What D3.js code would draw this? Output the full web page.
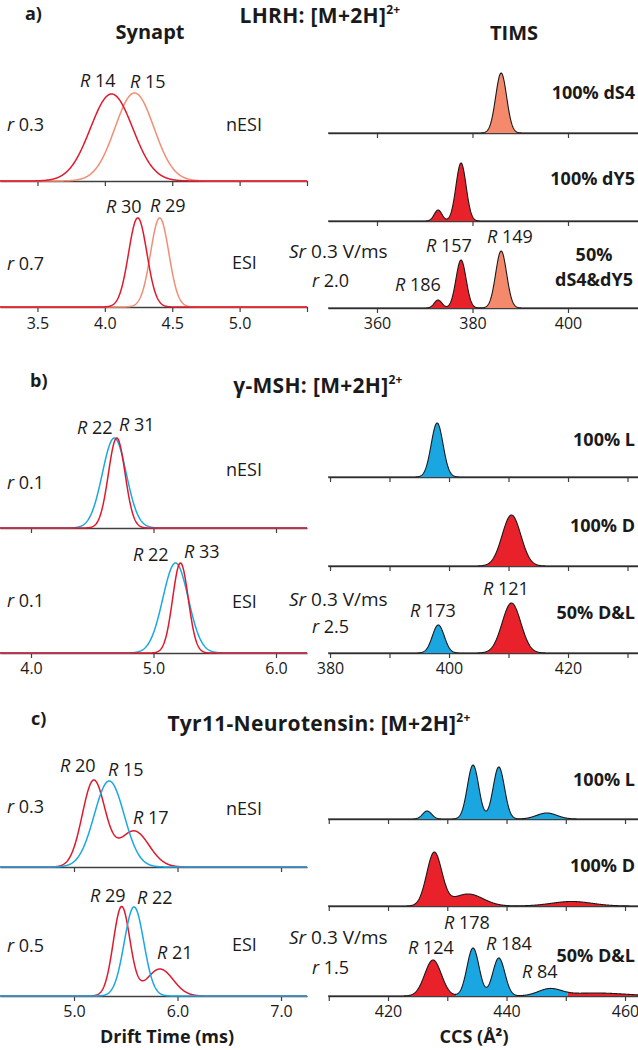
<!DOCTYPE html>
<html><head><meta charset="utf-8">
<script src="https://cdn.jsdelivr.net/npm/d3@7"></script>
<style>
html,body{margin:0;padding:0;background:#fff;}
svg text{font-family:"Open Sans",sans-serif;fill:#1a1a1a;}
</style></head><body>
<svg id="c" width="638" height="1050"></svg>
<script>
// ================= DATA =================
// Every peak is [centre, FWHM, relative intensity].

// ---- a) LHRH ----
const aSynaptDomain = [3.222, 5.5];            // drift time (ms)
const aSynaptTicks = [3.5, 4.0, 4.5, 5.0, 5.5];
const aSynaptTickLabels = ["3.5", "4.0", "4.5", "5.0", ""];
const aNesiDS4 = [[4.22, 0.34, 0.978]];
const aNesiDY5 = [[4.05, 0.37, 0.967]];
const aEsiDS4 = [[4.407, 0.16, 0.99]];
const aEsiDY5 = [[4.244, 0.16, 0.99]];

const aTimsDomain = [349.74, 414.66];         // CCS (Å²)
const aTimsTicks = [360, 380, 400];
const aTimsTickLabels = ["360", "380", "400"];
const aTimsDS4 = [[386.0, 2.7, 1.0]];
const aTimsDY5 = [[372.8, 1.9, 0.183], [377.6, 2.5, 0.967]];
const aTimsMixDS4 = [[386.0, 2.7, 0.95]];
const aTimsMixDY5 = [[372.8, 1.9, 0.133], [377.6, 2.5, 0.80]];

// ---- b) γ-MSH ----
const bSynaptDomain = [3.747, 6.253];
const bSynaptTicks = [4.0, 5.0, 6.0];
const bSynaptTickLabels = ["4.0", "5.0", "6.0"];
const bNesiL = [[4.68, 0.23, 1.0]];
const bNesiD = [[4.70, 0.16, 1.0]];
const bEsiL = [[5.18, 0.245, 1.0]];
const bEsiD = [[5.22, 0.15, 1.0]];

const bTimsDomain = [379.66, 431.76];
const bTimsTicks = [380, 390, 400, 410, 420, 430];
const bTimsTickLabels = ["380", "", "400", "", "420", ""];
const bTimsL = [[398.0, 2.35, 0.90]];
const bTimsD = [[410.5, 3.7, 0.85]];
const bTimsMixL = [[398.2, 2.35, 0.467]];
const bTimsMixD = [[410.5, 3.7, 0.833]];

// ---- c) Tyr11-Neurotensin ----
const cSynaptDomain = [4.285, 7.251];
const cSynaptTicks = [5.0, 6.0, 7.0];
const cSynaptTickLabels = ["5.0", "6.0", "7.0"];
const cNesiD = [[5.19, 0.26, 0.956], [5.58, 0.34, 0.40]];
const cNesiL = [[5.34, 0.34, 0.956]];
const cEsiD = [[5.46, 0.19, 0.99], [5.83, 0.30, 0.30]];
const cEsiL = [[5.58, 0.222, 0.99]];

const cTimsDomain = [409.87, 462.19];
const cTimsTicks = [410, 420, 430, 440, 450, 460];
const cTimsTickLabels = ["", "420", "", "440", "", "460"];
const cTimsL = [[426.6, 1.8, 0.133], [434.35, 2.25, 0.90], [438.7, 2.25, 0.867], [446.8, 4.0, 0.10]];
const cTimsD = [[427.8, 3.0, 0.883], [433.5, 6.0, 0.20], [451.0, 8.0, 0.075]];
const cTimsMixD = [[427.6, 3.3, 0.60], [455.0, 12.0, 0.05]];
const cTimsMixL = [[434.35, 2.4, 0.80], [438.7, 2.4, 0.633], [447.3, 4.5, 0.11]];

// ================= STYLE / LAYOUT =================
const COL = {
  redLine: "#e0192d", salmonLine: "#f28e74", cyanLine: "#1aa8e2",
  redFill: "#e8212b", salmonFill: "#f4896b", cyanFill: "#19a6e1",
  axis: "#404040", outline: "#1a1a1a"
};
const LX = [0, 307], RX = [328, 638];
const svg = d3.select("#c");
const N = 900;

function gauss(peaks, x) {
  let s = 0;
  for (const [c, w, h] of peaks) s += h * Math.exp(-4 * Math.LN2 * (x - c) * (x - c) / (w * w));
  return s;
}

function drawAxis(x, baseY, ticks, labels, showLabels, labelBase) {
  const ax = d3.axisBottom(x).tickValues(ticks).tickSize(5).tickSizeOuter(0)
    .tickFormat((d, i) => showLabels ? labels[i] : "");
  const g = svg.append("g").attr("transform", `translate(0,${baseY})`).call(ax);
  g.attr("font-family", null).attr("font-size", null);
  g.select(".domain").attr("stroke", COL.axis).attr("stroke-width", 1.5);
  g.selectAll(".tick line").attr("stroke", COL.axis).attr("stroke-width", 1.2);
  g.selectAll(".tick text").attr("y", labelBase - baseY).attr("dy", 0)
    .attr("font-size", 16).attr("fill", "#1a1a1a");
}

function drawSynapt(domain, baseY, traces, ticks, labels, showLabels, labelBase) {
  const x = d3.scaleLinear().domain(domain).range(LX);
  const y = d3.scaleLinear().domain([0, 1]).range([baseY, baseY - 90]);
  drawAxis(x, baseY, ticks, labels, showLabels, labelBase);
  const xs = d3.range(N + 1).map(i => domain[0] + (domain[1] - domain[0]) * i / N);
  traces.forEach(t => {
    const line = d3.line().x(d => x(d)).y(d => y(gauss(t.peaks, d)));
    svg.append("path").datum(xs).attr("d", line).attr("fill", "none")
      .attr("stroke", t.color).attr("stroke-width", 1.5);
  });
}

function drawTims(domain, baseY, comps, ticks, labels, showLabels, labelBase) {
  const x = d3.scaleLinear().domain(domain).range(RX);
  const y = d3.scaleLinear().domain([0, 1]).range([baseY, baseY - 60]);
  drawAxis(x, baseY, ticks, labels, showLabels, labelBase);
  const xs = d3.range(N + 1).map(i => domain[0] + (domain[1] - domain[0]) * i / N);
  const vals = xs.map(v => comps.map(c => gauss(c.peaks, v)));
  const tot = vals.map(v => d3.sum(v));
  const dom = vals.map(v => d3.maxIndex(v));
  const area = d3.area().x(i => x(xs[i])).y0(baseY).y1(i => y(tot[i]));
  let start = 0;
  for (let i = 1; i <= xs.length; i++) {
    if (i === xs.length || dom[i] !== dom[start]) {
      const idx = d3.range(start, Math.min(i + 1, xs.length));
      svg.append("path").datum(idx).attr("d", area).attr("fill", comps[dom[start]].color);
      start = i;
    }
  }
  const line = d3.line().x((d, i) => x(d)).y((d, i) => y(tot[i]));
  svg.append("path").datum(xs).attr("d", line).attr("fill", "none")
    .attr("stroke", COL.outline).attr("stroke-width", 1.1);
}

// ---- panel a ----
drawSynapt(aSynaptDomain, 181, [{peaks: aNesiDS4, color: COL.salmonLine}, {peaks: aNesiDY5, color: COL.redLine}],
  aSynaptTicks, aSynaptTickLabels, false, 329);
drawSynapt(aSynaptDomain, 307, [{peaks: aEsiDS4, color: COL.salmonLine}, {peaks: aEsiDY5, color: COL.redLine}],
  aSynaptTicks, aSynaptTickLabels, true, 329);
drawTims(aTimsDomain, 133, [{peaks: aTimsDS4, color: COL.salmonFill}], aTimsTicks, aTimsTickLabels, false, 329);
drawTims(aTimsDomain, 221, [{peaks: aTimsDY5, color: COL.redFill}], aTimsTicks, aTimsTickLabels, false, 329);
drawTims(aTimsDomain, 308, [{peaks: aTimsMixDY5, color: COL.redFill}, {peaks: aTimsMixDS4, color: COL.salmonFill}],
  aTimsTicks, aTimsTickLabels, true, 329);

// ---- panel b ----
drawSynapt(bSynaptDomain, 528, [{peaks: bNesiL, color: COL.cyanLine}, {peaks: bNesiD, color: COL.redLine}],
  bSynaptTicks, bSynaptTickLabels, false, 674);
drawSynapt(bSynaptDomain, 653, [{peaks: bEsiL, color: COL.cyanLine}, {peaks: bEsiD, color: COL.redLine}],
  bSynaptTicks, bSynaptTickLabels, true, 674);
drawTims(bTimsDomain, 477, [{peaks: bTimsL, color: COL.cyanFill}], bTimsTicks, bTimsTickLabels, false, 674);
drawTims(bTimsDomain, 566, [{peaks: bTimsD, color: COL.redFill}], bTimsTicks, bTimsTickLabels, false, 674);
drawTims(bTimsDomain, 653, [{peaks: bTimsMixL, color: COL.cyanFill}, {peaks: bTimsMixD, color: COL.redFill}],
  bTimsTicks, bTimsTickLabels, true, 674);

// ---- panel c ----
drawSynapt(cSynaptDomain, 867, [{peaks: cNesiD, color: COL.redLine}, {peaks: cNesiL, color: COL.cyanLine}],
  cSynaptTicks, cSynaptTickLabels, false, 1017);
drawSynapt(cSynaptDomain, 996, [{peaks: cEsiD, color: COL.redLine}, {peaks: cEsiL, color: COL.cyanLine}],
  cSynaptTicks, cSynaptTickLabels, true, 1017);
drawTims(cTimsDomain, 819, [{peaks: cTimsL, color: COL.cyanFill}], cTimsTicks, cTimsTickLabels, false, 1017);
drawTims(cTimsDomain, 906, [{peaks: cTimsD, color: COL.redFill}], cTimsTicks, cTimsTickLabels, false, 1017);
drawTims(cTimsDomain, 996, [{peaks: cTimsMixD, color: COL.redFill}, {peaks: cTimsMixL, color: COL.cyanFill}],
  cTimsTicks, cTimsTickLabels, true, 1017);

// ================= TEXT =================
// markup: *...* italic, ^...^ superscript
function txt(x, y, s, size, weight, anchor, supScale) {
  const ss = supScale || 0.62;
  const t = svg.append("text").attr("x", x).attr("y", y).attr("font-size", size)
    .attr("font-weight", weight || "normal").attr("text-anchor", anchor || "start");
  const parts = s.split(/(\*[^*]+\*|\^[^^]+\^)/).filter(p => p.length);
  let raised = false;
  parts.forEach(p => {
    if (p[0] === "*") t.append("tspan").attr("font-style", "italic").text(p.slice(1, -1));
    else if (p[0] === "^") { t.append("tspan").attr("font-size", size * ss).attr("dy", -size * 0.42).text(p.slice(1, -1)); raised = true; }
    else {
      const ts = t.append("tspan").text(p);
      if (raised) { ts.attr("dy", size * 0.42); raised = false; }
    }
  });
  return t;
}

// panel letters & titles
txt(25, 20, "a)", 18, "bold");
txt(30, 387, "b)", 18, "bold");
txt(31, 725, "c)", 18, "bold");
txt(320, 23, "LHRH: [M+2H]^2+^", 21, "bold", "middle", 0.57).attr("letter-spacing", 0.3);
txt(318, 393, "γ-MSH: [M+2H]^2+^", 21, "bold", "middle", 0.57).attr("letter-spacing", 0.3);
txt(319, 731, "Tyr11-Neurotensin: [M+2H]^2+^", 21, "bold", "middle", 0.57).attr("letter-spacing", 0.3);
txt(150, 39, "Synapt", 20, "bold", "middle");
txt(514, 40, "TIMS", 20, "bold", "middle");

// Synapt annotations
const RS = 18;
[
  [80, 87, "*R* 14"], [130, 88, "*R* 15"], [106, 213, "*R* 30"], [150, 212, "*R* 29"],
  [77, 434, "*R* 22"], [119, 431, "*R* 31"], [133, 561, "*R* 22"], [184, 558, "*R* 33"],
  [60, 772, "*R* 20"], [108, 776, "*R* 15"], [133, 824, "*R* 17"],
  [90, 902, "*R* 29"], [137, 904, "*R* 22"], [157, 959, "*R* 21"],
  [7, 131, "*r* 0.3"], [7, 270, "*r* 0.7"], [7, 489, "*r* 0.1"], [7, 607, "*r* 0.1"],
  [7, 813, "*r* 0.3"], [7, 952, "*r* 0.5"]
].forEach(d => txt(d[0], d[1], d[2], RS));
[[226, 131, "nESI"], [232, 269, "ESI"], [226, 476, "nESI"], [232, 608, "ESI"],
 [226, 815, "nESI"], [232, 951, "ESI"]].forEach(d => txt(d[0], d[1], d[2], RS));

// TIMS annotations
[
  [426, 252, "*R* 157"], [487, 243, "*R* 149"], [395, 291, "*R* 186"],
  [483, 595, "*R* 121"], [410, 617, "*R* 173"],
  [444, 929, "*R* 178"], [408, 954, "*R* 124"], [486, 950, "*R* 184"], [522, 978, "*R* 84"],
  [312, 287, "*r* 2.0"], [312, 633, "*r* 2.5"], [312, 974, "*r* 1.5"]
].forEach(d => txt(d[0], d[1], d[2], RS));
[[289, 258], [289, 606], [289, 944]].forEach(d => txt(d[0], d[1], "*Sr* 0.3 V/ms", 19));

[
  [635, 99, "100% dS4"], [635, 185, "100% dY5"],
  [635, 446, "100% L"], [635, 532, "100% D"], [635, 619, "50% D&L"],
  [635, 786, "100% L"], [635, 872, "100% D"], [635, 962, "50% D&L"]
].forEach(d => txt(d[0], d[1], d[2], 18, "bold", "end"));
txt(594, 261, "50%", 18, "bold", "middle");
txt(594, 286, "dS4&dY5", 18, "bold", "middle");

// axis titles
txt(167, 1043, "Drift Time (ms)", 18, "bold", "middle");
txt(474, 1043, "CCS (Å²)", 18, "bold", "middle");
</script>
</body></html>
